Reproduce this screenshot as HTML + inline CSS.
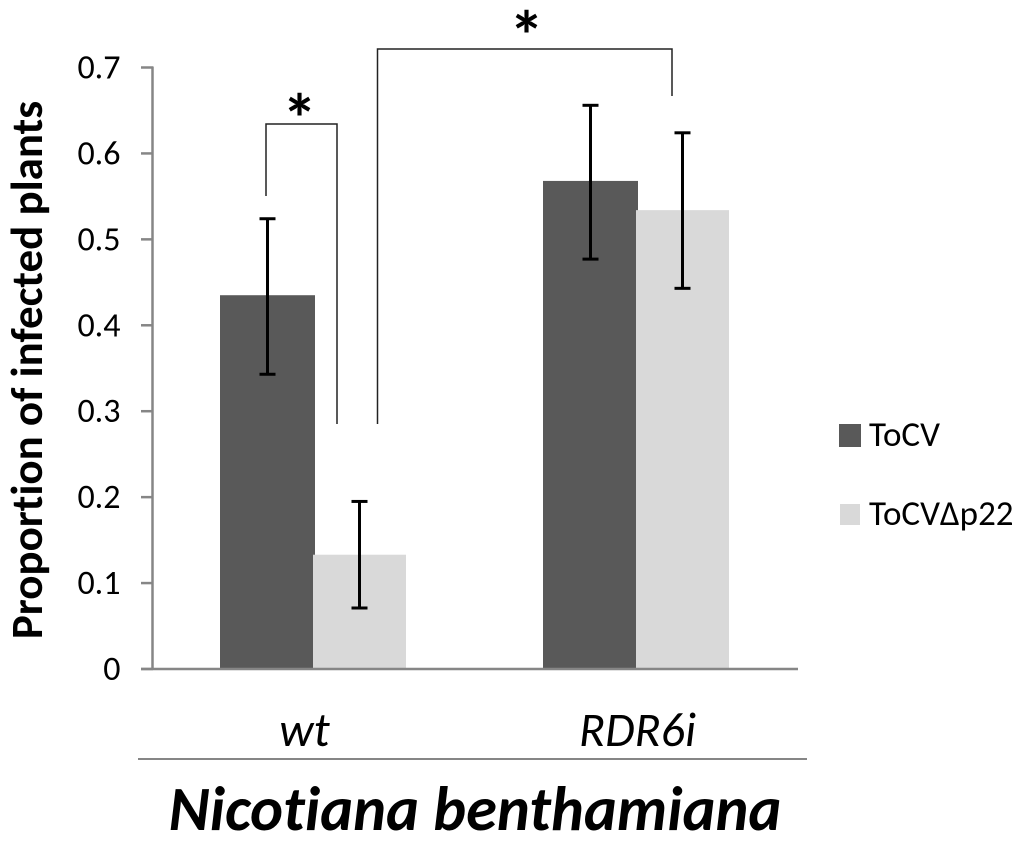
<!DOCTYPE html>
<html>
<head>
<meta charset="utf-8">
<style>
html,body{margin:0;padding:0;background:#fff;}
svg{display:block;}
text{font-family:"Carlito","Liberation Sans",sans-serif;fill:#000;font-variant-ligatures:none;}
</style>
</head>
<body>
<svg id="chart" width="1024" height="843" viewBox="0 0 1024 843" xmlns="http://www.w3.org/2000/svg"></svg>
<script>
const categories = ["wt", "RDR6i"];
const seriesNames = ["ToCV", "ToCV\u0394p22"];
const tocvValues = [0.435, 0.568];
const deltaValues = [0.133, 0.534];
const tocvErrorHigh = [0.524, 0.656];
const tocvErrorLow = [0.343, 0.477];
const deltaErrorHigh = [0.195, 0.624];
const deltaErrorLow = [0.071, 0.443];
const tickLabels = ["0", "0.1", "0.2", "0.3", "0.4", "0.5", "0.6", "0.7"];
const tickValues = [0, 0.1, 0.2, 0.3, 0.4, 0.5, 0.6, 0.7];

const svg = document.getElementById('chart');
const NS = 'http://www.w3.org/2000/svg';
function add(tag, attrs, text) {
  const el = document.createElementNS(NS, tag);
  for (const k in attrs) el.setAttribute(k, attrs[k]);
  if (text !== undefined) el.textContent = text;
  svg.appendChild(el);
  return el;
}
const y = v => 669 - v * (669 - 67.5) / 0.7;
const groupCenter = i => 313 + i * 323;
const colors = ["#595959", "#d9d9d9"];

// bars (light bar is painted over the dark bar's right edge)
[tocvValues, deltaValues].forEach((vals, s) => {
  vals.forEach((v, i) => {
    const x = groupCenter(i) + (s === 0 ? -93 : 0);
    const w = s === 0 ? 95 : 93;
    const b = add('rect', {x: x, y: y(v), width: w, height: y(0) - y(v), fill: colors[s]});
    
    
  });
});

// axes
const yAxis = add('line', {x1: 152.5, y1: 66.5, x2: 152.5, y2: 669, stroke: '#868686', 'stroke-width': 2.5});


const xAxis = add('line', {x1: 141, y1: 669, x2: 798, y2: 669, stroke: '#868686', 'stroke-width': 2.5});



tickValues.forEach((v, i) => {
  const t = add('line', {x1: 141, y1: y(v), x2: 153, y2: y(v), stroke: '#868686', 'stroke-width': 2.5});
  
  
  const l = add('text', {x: 120.5, y: y(v) + 11, 'text-anchor': 'end', 'font-size': 34}, tickLabels[i]);
  
  
});

// error bars
[[tocvErrorHigh, tocvErrorLow], [deltaErrorHigh, deltaErrorLow]].forEach((pair, s) => {
  categories.forEach((c, i) => {
    const cx = groupCenter(i) + (s === 0 ? -45.5 : 46.5);
    const hi = y(pair[0][i]);
    const lo = y(pair[1][i]);
    const g = [[cx, hi, cx, lo],
               [cx - 8, hi, cx + 8, hi],
               [cx - 8, lo, cx + 8, lo]];
    g.forEach(p => {
      const e = add('line', {x1: p[0], y1: p[1], x2: p[2], y2: p[3], stroke: '#000', 'stroke-width': 3});
      
      
    });
  });
});

// category labels
categories.forEach((c, i) => {
  const l = add('text', {x: i === 0 ? 304.5 : 637.5, y: 746, 'text-anchor': 'middle', 'font-size': 48, 'font-style': 'italic'}, c);
  
  
});

const sep = add('line', {x1: 138, y1: 759, x2: 807, y2: 759, stroke: '#868686', 'stroke-width': 2});



const xTitle = add('text', {x: 475, y: 830, 'text-anchor': 'middle', 'font-size': 62.5, 'font-weight': 'bold', 'font-style': 'italic'}, 'Nicotiana benthamiana');



const yTitle = add('text', {x: 0, y: 0, transform: 'translate(42,370) rotate(-90)', 'text-anchor': 'middle', 'font-size': 45, 'font-weight': 'bold'}, 'Proportion of infected plants');



// significance brackets
const b1 = add('polyline', {points: '266,196 266,124 337,124 337,424', fill: 'none', stroke: '#222', 'stroke-width': 1.5});


const b2 = add('polyline', {points: '377.5,424 377.5,49 672,49 672,96', fill: 'none', stroke: '#222', 'stroke-width': 1.5});


const s1 = add('text', {x: 299.5, y: 143, 'text-anchor': 'middle', 'font-size': 70, 'font-weight': 'bold'}, '*');


const s2 = add('text', {x: 526.5, y: 60, 'text-anchor': 'middle', 'font-size': 70, 'font-weight': 'bold'}, '*');



// legend
seriesNames.forEach((n, i) => {
  const sw = i === 0
    ? add('rect', {x: 839, y: 424, width: 22, height: 23, fill: colors[i]})
    : add('rect', {x: 840, y: 504, width: 20, height: 21, fill: colors[i]});
  
  
  const t = add('text', {x: 869, y: i === 0 ? 446 : 525, 'font-size': 35}, n);
  
  
});
</script>
</body>
</html>
